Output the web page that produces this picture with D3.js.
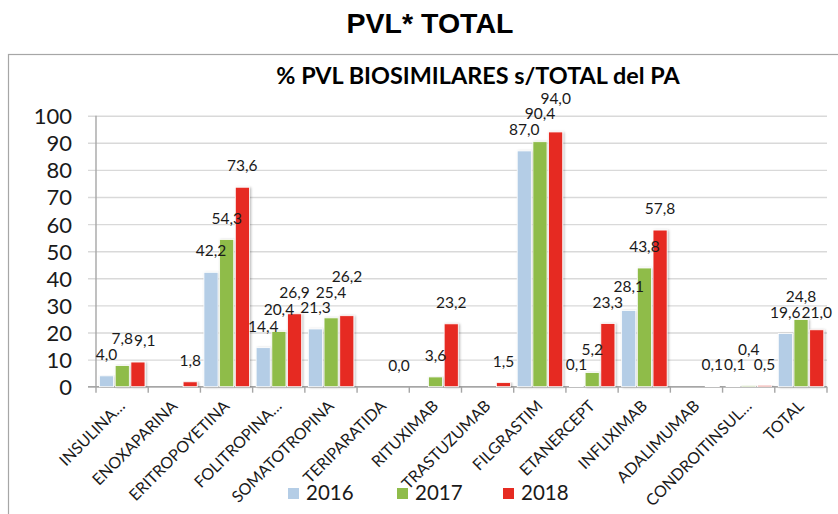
<!DOCTYPE html>
<html lang="es">
<head>
<meta charset="utf-8">
<title>PVL* TOTAL</title>
<script src="https://cdn.jsdelivr.net/npm/d3@7"></script>
<style>
  body { margin: 0; background: #fff; }
  svg { display: block; }
  .lbl { font-family: Lato, "Open Sans", sans-serif; fill: #1a1a1a; }
</style>
</head>
<body>
<script>
var w = 838, h = 514;

// data
var categories = ["INSULINA…", "ENOXAPARINA", "ERITROPOYETINA", "FOLITROPINA…",
  "SOMATOTROPINA", "TERIPARATIDA", "RITUXIMAB", "TRASTUZUMAB", "FILGRASTIM",
  "ETANERCEPT", "INFLIXIMAB", "ADALIMUMAB", "CONDROITINSUL…", "TOTAL"];
var years = ["2016", "2017", "2018"];
var v2016 = [4.0, null, 42.2, 14.4, 21.3, null, null, null, 87.0, 0.1, 28.1, null, 0.1, 19.6];
var v2017 = [7.8, null, 54.3, 20.4, 25.4, null, 3.6, null, 90.4, 5.2, 43.8, null, 0.4, 24.8];
var v2018 = [9.1, 1.8, 73.6, 26.9, 26.2, 0.0, 23.2, 1.5, 94.0, 23.3, 57.8, 0.1, 0.5, 21.0];
var yTicks = [0, 10, 20, 30, 40, 50, 60, 70, 80, 90, 100];

var colours = {"2016": "#b4cde6", "2017": "#8fbc4a", "2018": "#e62b22"};
var seriesVals = {"2016": v2016, "2017": v2017, "2018": v2018};

var svg = d3.select("body").append("svg")
  .attr("width", w)
  .attr("height", h);

var defs = svg.append("defs");
defs.append("filter").attr("id", "shadow")
  .attr("x", "-20%").attr("y", "-5%").attr("width", "150%").attr("height", "115%")
  .append("feDropShadow")
  .attr("dx", 1.2).attr("dy", 0.6).attr("stdDeviation", 0.9)
  .attr("flood-color", "#000").attr("flood-opacity", 0.28);

// outer frame of the chart object
svg.append("rect")
  .attr("x", 8.5).attr("y", 54.5)
  .attr("width", 860).attr("height", 500)
  .attr("fill", "none")
  .attr("stroke", "#a6a6a6")
  .attr("stroke-width", 1.2);

svg.append("text")
  .attr("x", 430).attr("y", 33)
  .attr("text-anchor", "middle")
  .style("font-family", "'Liberation Sans', Arial, sans-serif")
  .style("font-weight", "bold")
  .style("font-size", "28.5px")
  .text("PVL* TOTAL");

svg.append("text")
  .attr("class", "lbl")
  .attr("x", 478).attr("y", 84)
  .attr("text-anchor", "middle")
  .style("font-weight", "bold")
  .style("font-size", "23.4px")
  .style("fill", "#000")
  .text("% PVL BIOSIMILARES s/TOTAL del PA");

var x = d3.scaleBand()
  .domain(categories)
  .range([96, 827])
  .paddingInner(0)
  .paddingOuter(0);

var xs = d3.scaleBand()
  .domain(years)
  .range([3.5, 49])
  .paddingInner(0.1)
  .paddingOuter(0);

var y = d3.scaleLinear()
  .domain([0, 100])
  .range([386.7, 115.7]);

// gridlines + y labels
var yAxis = d3.axisLeft(y)
  .tickValues(yTicks)
  .tickSize(-(827 - 88))
  .tickPadding(16)
  .tickFormat(d3.format("d"));

var gy = svg.append("g")
  .attr("transform", "translate(88,0)")
  .call(yAxis);
gy.select(".domain").remove();
gy.selectAll(".tick line")
  .attr("stroke", "#d9d9d9")
  .attr("stroke-width", 1.4);
gy.selectAll(".tick text")
  .attr("class", "lbl")
  .style("font-size", "22px")
  .attr("dy", "0.36em")
  .attr("x", -16);

// vertical axis line
svg.append("line")
  .attr("x1", 96).attr("x2", 96)
  .attr("y1", y(100)).attr("y2", y(0))
  .attr("stroke", "#a6a6a6").attr("stroke-width", 1.4);

// baseline and category ticks
svg.append("line")
  .attr("x1", 88).attr("x2", 827)
  .attr("y1", y(0)).attr("y2", y(0))
  .attr("stroke", "#a6a6a6").attr("stroke-width", 1.4);

var edges = categories.map(function(c) { return x(c); }).concat([x.range()[1]]);
svg.selectAll(".xtick")
  .data(edges)
  .enter().append("line")
  .attr("class", "xtick")
  .attr("x1", function(d) { return d; })
  .attr("x2", function(d) { return d; })
  .attr("y1", y(0)).attr("y2", y(0) + 6)
  .attr("stroke", "#a6a6a6").attr("stroke-width", 1.4);

// bars
var bars = [];
categories.forEach(function(c, i) {
  years.forEach(function(yr) {
    var v = seriesVals[yr][i];
    if (v !== null) bars.push({cat: c, year: yr, value: v});
  });
});

svg.append("g").selectAll("rect")
  .data(bars)
  .enter().append("rect")
  .attr("x", function(d) { return x(d.cat) + xs(d.year); })
  .attr("y", function(d) { return y(d.value); })
  .attr("width", xs.bandwidth())
  .attr("height", function(d) { return y(0) - y(d.value); })
  .attr("fill", function(d) { return colours[d.year]; })
  .attr("stroke", "#fff")
  .attr("stroke-width", 0.8)
  .attr("filter", "url(#shadow)");

// data labels: when one hits a label already placed, take the cheapest way out
// (up, a small step down, or sideways which costs double)
var fmt = function(v) { return d3.format(".1f")(v).replace(".", ","); };
var placed = [];
var gl = svg.append("g");
bars.forEach(function(d) {
  var t = gl.append("text")
    .attr("class", "lbl")
    .attr("text-anchor", "middle")
    .style("font-size", "15.5px")
    .text(fmt(d.value));
  var tw = t.node().getComputedTextLength() + 1;
  var cx = x(d.cat) + xs(d.year) + xs.bandwidth() / 2;
  var by = y(d.value) - 16;
  var box = {x0: cx - tw / 2, x1: cx + tw / 2, y0: by - 13.5, y1: by + 2};
  for (var k = 0; k < 10; k++) {
    var moved = false;
    placed.forEach(function(p) {
      var ox = Math.min(box.x1, p.x1) - Math.max(box.x0, p.x0);
      var oy = Math.min(box.y1, p.y1) - Math.max(box.y0, p.y0);
      if (ox <= 0 || oy <= 0) return;
      moved = true;
      var up = box.y1 - p.y0, down = p.y1 - box.y0;
      var opts = [{dx: 0, dy: -up, c: up}];
      if (down <= 4) opts.push({dx: 0, dy: down, c: down});
      if (box.x0 + box.x1 >= p.x0 + p.x1) {
        opts.push({dx: p.x1 - box.x0, dy: 0, c: 2 * (p.x1 - box.x0)});
      } else {
        opts.push({dx: -(box.x1 - p.x0), dy: 0, c: 2 * (box.x1 - p.x0)});
      }
      opts.sort(function(a, b) { return a.c - b.c; });
      box.x0 += opts[0].dx; box.x1 += opts[0].dx;
      box.y0 += opts[0].dy; box.y1 += opts[0].dy;
    });
    if (!moved) break;
  }
  placed.push(box);
  t.attr("x", (box.x0 + box.x1) / 2).attr("y", box.y1 - 2);
});

// rotated category names
svg.append("g").selectAll("text")
  .data(categories)
  .enter().append("text")
  .attr("class", "lbl")
  .attr("text-anchor", "end")
  .style("font-size", "16px")
  .attr("transform", function(d) {
    return "translate(" + (x(d) + x.bandwidth() / 2 + 4) + "," + 407 + ") rotate(-45)";
  })
  .text(function(d) { return d; });

// legend
var legX = {"2016": 288, "2017": 397, "2018": 503};
var lg = svg.append("g");
years.forEach(function(yr) {
  lg.append("rect")
    .attr("x", legX[yr]).attr("y", 488)
    .attr("width", 11).attr("height", 11)
    .attr("fill", colours[yr]);
  lg.append("text")
    .attr("class", "lbl")
    .attr("x", legX[yr] + 18).attr("y", 500)
    .style("font-size", "20.5px")
    .text(yr);
});
</script>
</body>
</html>
